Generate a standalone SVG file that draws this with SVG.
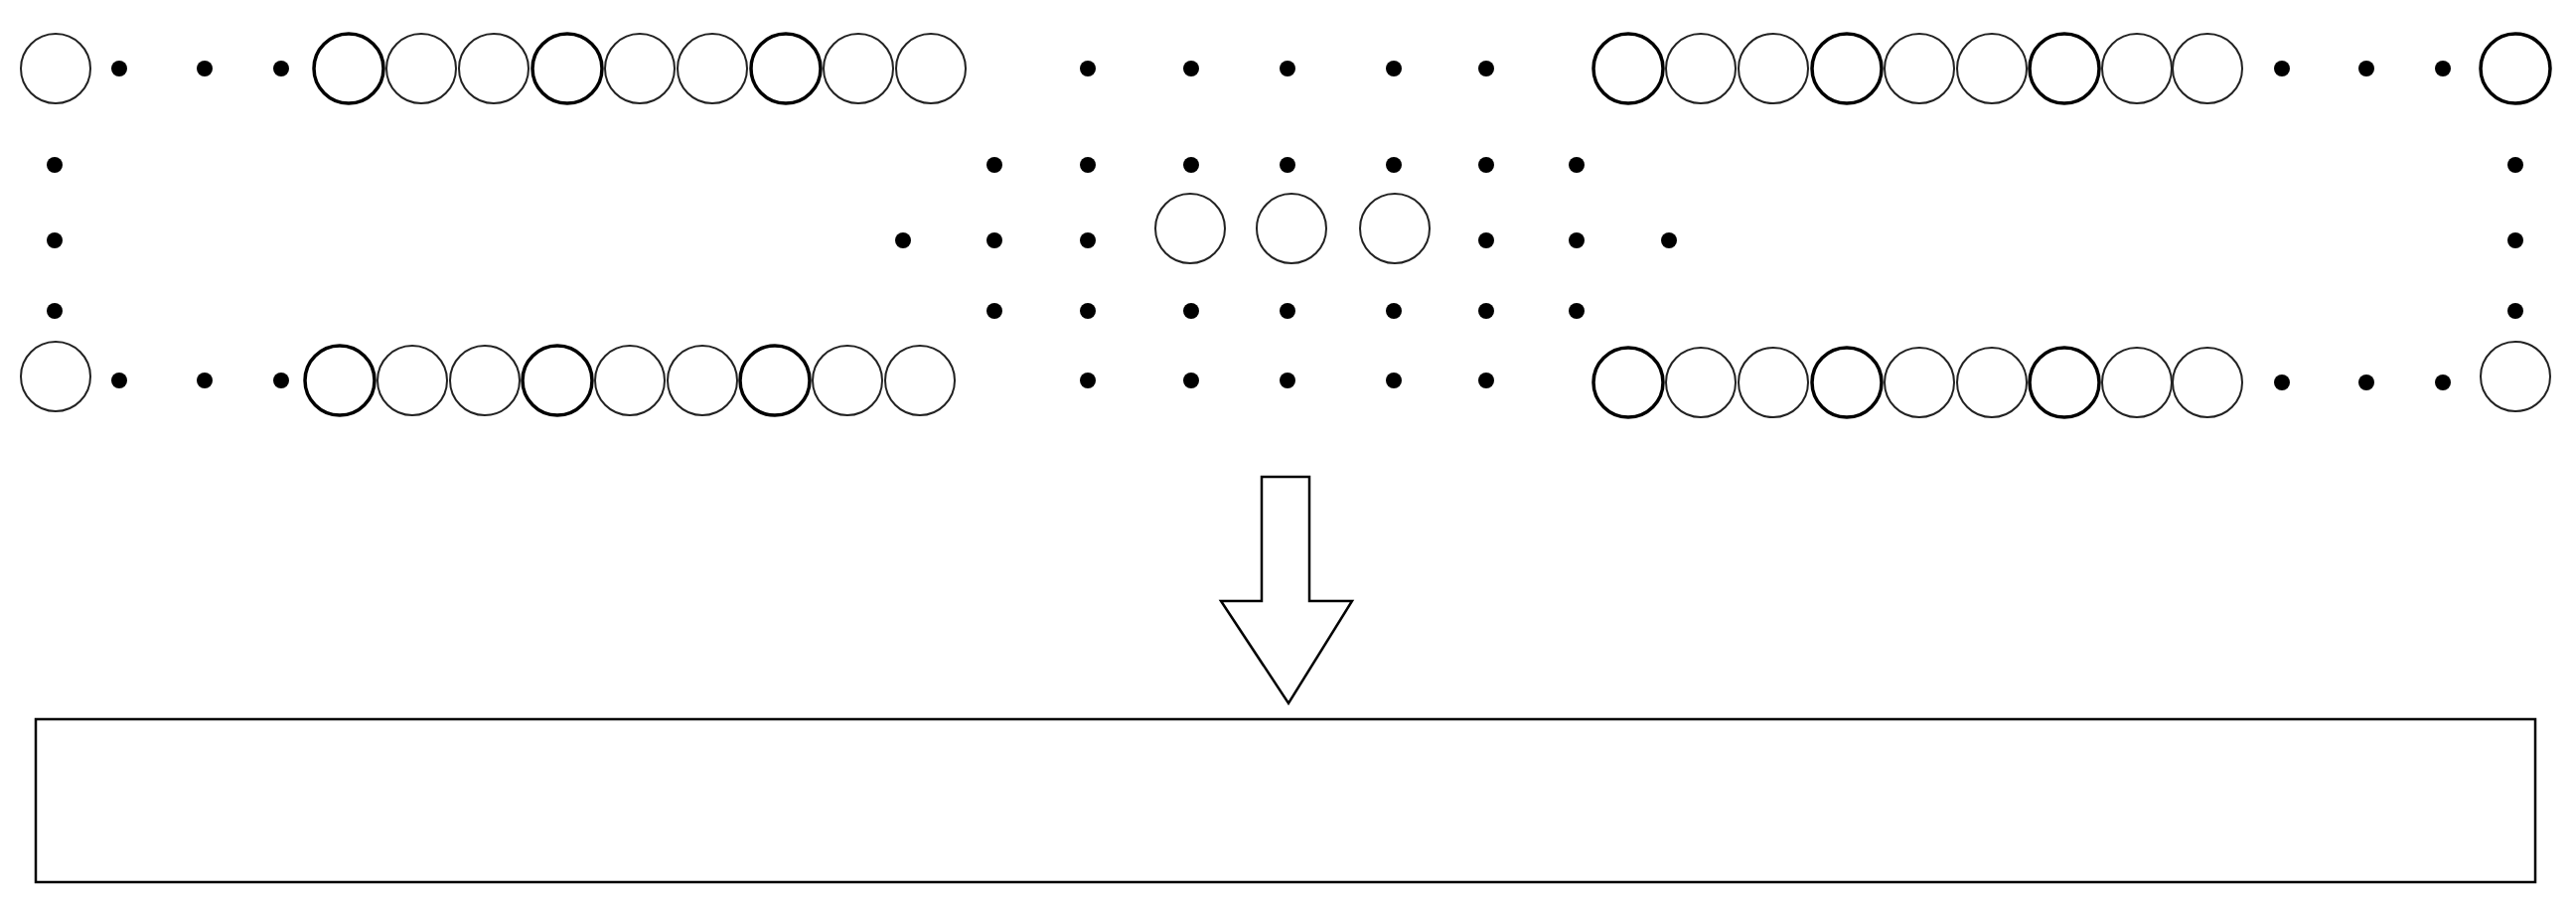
<svg xmlns="http://www.w3.org/2000/svg" width="2593" height="906" viewBox="0 0 2593 906">
<style>
.c{fill:#fff;stroke:#222;stroke-width:2}
.b{fill:#fff;stroke:#000;stroke-width:3.5}
.d{fill:#000}
</style>
<defs>
<circle id="C" r="35" class="c"/>
<circle id="B" r="35" class="b"/>
<circle id="D" r="8" class="d"/>
</defs>
<rect width="2593" height="906" fill="#fff"/>
<g id="top-left">
<use href="#C" x="56" y="69"/>
<use href="#D" x="120" y="69"/><use href="#D" x="206" y="69"/><use href="#D" x="283" y="69"/>
<use href="#B" x="351" y="69"/><use href="#C" x="424" y="69"/><use href="#C" x="497" y="69"/>
<use href="#B" x="571" y="69"/><use href="#C" x="644" y="69"/><use href="#C" x="717" y="69"/>
<use href="#B" x="791" y="69"/><use href="#C" x="864" y="69"/><use href="#C" x="937" y="69"/>
</g>
<g id="bottom-left">
<use href="#C" x="56" y="379"/>
<use href="#D" x="120" y="383"/><use href="#D" x="206" y="383"/><use href="#D" x="283" y="383"/>
<use href="#B" x="342" y="383"/><use href="#C" x="415" y="383"/><use href="#C" x="488" y="383"/>
<use href="#B" x="561" y="383"/><use href="#C" x="634" y="383"/><use href="#C" x="707" y="383"/>
<use href="#B" x="780" y="383"/><use href="#C" x="853" y="383"/><use href="#C" x="926" y="383"/>
</g>
<g id="left-column">
<use href="#D" x="55" y="166"/><use href="#D" x="55" y="242"/><use href="#D" x="55" y="313"/>
</g>
<g id="center">
<use href="#D" x="1095" y="69"/><use href="#D" x="1199" y="69"/><use href="#D" x="1296" y="69"/><use href="#D" x="1403" y="69"/><use href="#D" x="1496" y="69"/>
<use href="#D" x="1001" y="166"/><use href="#D" x="1095" y="166"/><use href="#D" x="1199" y="166"/><use href="#D" x="1296" y="166"/><use href="#D" x="1403" y="166"/><use href="#D" x="1496" y="166"/><use href="#D" x="1587" y="166"/>
<use href="#D" x="909" y="242"/><use href="#D" x="1001" y="242"/><use href="#D" x="1095" y="242"/>
<use href="#C" x="1198" y="230"/><use href="#C" x="1300" y="230"/><use href="#C" x="1404" y="230"/>
<use href="#D" x="1496" y="242"/><use href="#D" x="1587" y="242"/><use href="#D" x="1680" y="242"/>
<use href="#D" x="1001" y="313"/><use href="#D" x="1095" y="313"/><use href="#D" x="1199" y="313"/><use href="#D" x="1296" y="313"/><use href="#D" x="1403" y="313"/><use href="#D" x="1496" y="313"/><use href="#D" x="1587" y="313"/>
<use href="#D" x="1095" y="383"/><use href="#D" x="1199" y="383"/><use href="#D" x="1296" y="383"/><use href="#D" x="1403" y="383"/><use href="#D" x="1496" y="383"/>
</g>
<g id="top-right">
<use href="#B" x="1639" y="69"/><use href="#C" x="1712" y="69"/><use href="#C" x="1785" y="69"/>
<use href="#B" x="1859" y="69"/><use href="#C" x="1932" y="69"/><use href="#C" x="2005" y="69"/>
<use href="#B" x="2078" y="69"/><use href="#C" x="2151" y="69"/><use href="#C" x="2222" y="69"/>
<use href="#D" x="2297" y="69"/><use href="#D" x="2382" y="69"/><use href="#D" x="2459" y="69"/>
<use href="#B" x="2532" y="69"/>
</g>
<g id="bottom-right">
<use href="#B" x="1639" y="385"/><use href="#C" x="1712" y="385"/><use href="#C" x="1785" y="385"/>
<use href="#B" x="1859" y="385"/><use href="#C" x="1932" y="385"/><use href="#C" x="2005" y="385"/>
<use href="#B" x="2078" y="385"/><use href="#C" x="2151" y="385"/><use href="#C" x="2222" y="385"/>
<use href="#D" x="2297" y="385"/><use href="#D" x="2382" y="385"/><use href="#D" x="2459" y="385"/>
<use href="#C" x="2532" y="379"/>
</g>
<g id="right-column">
<use href="#D" x="2532" y="166"/><use href="#D" x="2532" y="242"/><use href="#D" x="2532" y="313"/>
</g>
<g id="connectors">
<path d="M1270 480 H1318 V605 H1361 L1297 708 L1229 605 H1270 Z" fill="#fff" stroke="#000" stroke-width="2.5" stroke-linejoin="miter"/>
</g>
<g id="output-box">
<rect x="36" y="724" width="2516" height="164" fill="#fff" stroke="#000" stroke-width="2.5"/>
</g>
</svg>
